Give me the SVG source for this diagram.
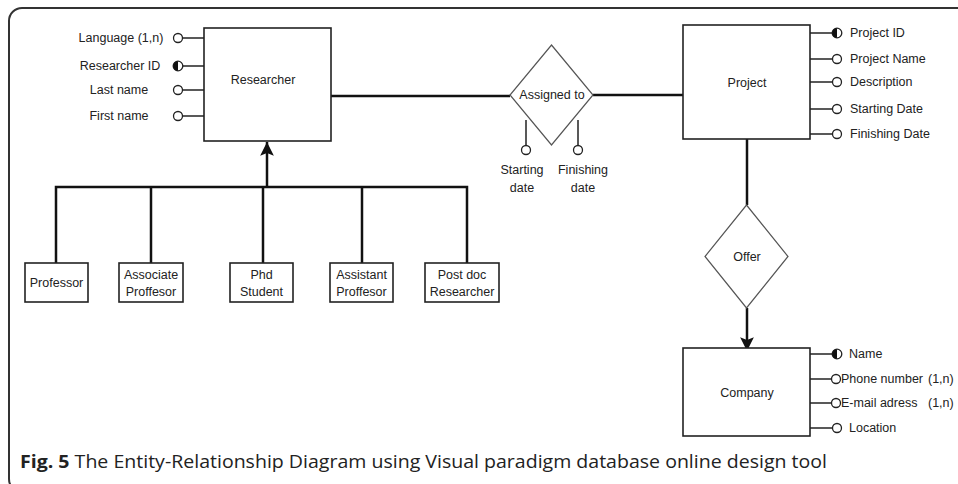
<svg xmlns="http://www.w3.org/2000/svg" width="958" height="484" viewBox="0 0 958 484">
<style>
  .frame{fill:none;stroke:#333;stroke-width:2}
  .box{fill:#fff;stroke:#222;stroke-width:1.6}
  .dia{fill:#fff;stroke:#555;stroke-width:1.2}
  .con{fill:none;stroke:#111;stroke-width:2.5}
  .att{fill:none;stroke:#222;stroke-width:1.5}
  .oc{fill:#fff;stroke:#222;stroke-width:1.3}
  .t{font-family:"Liberation Sans",Arial,sans-serif;font-size:12.5px;fill:#222}
  .m{text-anchor:middle}
  .cap{font-family:"Open Sans","Noto Sans",sans-serif;font-size:18px;fill:#222}
</style>
<defs>
  <marker id="arr" viewBox="0 0 10 10" refX="10" refY="5" markerWidth="5.5" markerHeight="5.5" markerUnits="strokeWidth" orient="auto">
    <path d="M0,0 L10,5 L0,10 L2,5 Z" fill="#111"/>
  </marker>
  <g id="half">
    <circle r="4.8" fill="#fff" stroke="#222" stroke-width="1.3"/>
    <path d="M0,-4.8 A4.8,4.8 0 0 0 0,4.8 Z" fill="#111"/>
  </g>
</defs>
<rect class="frame" x="9" y="8" width="980" height="484" rx="13"/>

<g id="connectors">
  <line class="con" x1="331" y1="96" x2="510" y2="96"/>
  <line class="con" x1="593" y1="95" x2="683" y2="95"/>
  <line class="con" x1="747" y1="139" x2="747" y2="205"/>
  <line class="con" x1="747" y1="308" x2="747" y2="351" marker-end="url(#arr)"/>
  <line class="con" x1="267" y1="187" x2="267" y2="142" marker-end="url(#arr)"/>
  <polyline class="con" points="56,263 56,187 467,187 467,263"/>
  <line class="con" x1="151" y1="187" x2="151" y2="263"/>
  <line class="con" x1="263" y1="187" x2="263" y2="263"/>
  <line class="con" x1="362" y1="187" x2="362" y2="263"/>
</g>

<g id="researcher">
  <rect class="box" x="204" y="28" width="127" height="113"/>
  <text class="t m" x="263" y="84">Researcher</text>
  <g id="researcher-attrs">
    <line class="att" x1="183" y1="38" x2="204" y2="38"/>
    <circle class="oc" cx="178" cy="38" r="4.5"/>
    <text class="t m" x="121" y="42">Language (1,n)</text>
    <line class="att" x1="183" y1="66" x2="204" y2="66"/>
    <use href="#half" x="178" y="66"/>
    <text class="t m" x="120" y="70">Researcher ID</text>
    <line class="att" x1="183" y1="90" x2="204" y2="90"/>
    <circle class="oc" cx="178" cy="90" r="4.5"/>
    <text class="t m" x="119" y="94">Last name</text>
    <line class="att" x1="183" y1="116" x2="204" y2="116"/>
    <circle class="oc" cx="178" cy="116" r="4.5"/>
    <text class="t m" x="119" y="120">First name</text>
  </g>
</g>

<g id="assigned-to">
  <polygon class="dia" points="551.5,45 593,95 551.5,145 510,95"/>
  <text class="t m" x="552" y="99">Assigned to</text>
  <line class="att" x1="526" y1="120" x2="526" y2="146"/>
  <circle class="oc" cx="526" cy="150" r="4.5"/>
  <text class="t m" x="522" y="174">Starting</text>
  <text class="t m" x="522" y="192">date</text>
  <line class="att" x1="578" y1="120" x2="578" y2="146"/>
  <circle class="oc" cx="578" cy="150" r="4.5"/>
  <text class="t m" x="583" y="174">Finishing</text>
  <text class="t m" x="583" y="192">date</text>
</g>

<g id="project">
  <rect class="box" x="683" y="25" width="127" height="114"/>
  <text class="t m" x="747" y="87">Project</text>
  <line class="att" x1="810" y1="33" x2="832" y2="33"/>
  <use href="#half" x="837" y="33"/>
  <text class="t" x="850" y="37">Project ID</text>
  <line class="att" x1="810" y1="59" x2="832" y2="59"/>
  <circle class="oc" cx="837" cy="59" r="4.5"/>
  <text class="t" x="850" y="63">Project Name</text>
  <line class="att" x1="810" y1="82" x2="832" y2="82"/>
  <circle class="oc" cx="837" cy="82" r="4.5"/>
  <text class="t" x="850" y="86">Description</text>
  <line class="att" x1="810" y1="109" x2="832" y2="109"/>
  <circle class="oc" cx="837" cy="109" r="4.5"/>
  <text class="t" x="850" y="113">Starting Date</text>
  <line class="att" x1="810" y1="134" x2="832" y2="134"/>
  <circle class="oc" cx="837" cy="134" r="4.5"/>
  <text class="t" x="850" y="138">Finishing Date</text>
</g>

<g id="offer">
  <polygon class="dia" points="746.5,205 788,256.5 746.5,308 705,256.5"/>
  <text class="t m" x="747" y="261">Offer</text>
</g>

<g id="company">
  <rect class="box" x="683" y="348" width="127" height="88"/>
  <text class="t m" x="747" y="397">Company</text>
  <line class="att" x1="810" y1="354" x2="832" y2="354"/>
  <use href="#half" x="837" y="354"/>
  <text class="t" x="849" y="358">Name</text>
  <line class="att" x1="810" y1="379" x2="832" y2="379"/>
  <circle class="oc" cx="836" cy="379" r="4.5"/>
  <text class="t" x="841" y="383">Phone number</text>
  <text class="t" x="928" y="383">(1,n)</text>
  <line class="att" x1="810" y1="403" x2="832" y2="403"/>
  <circle class="oc" cx="836" cy="403" r="4.5"/>
  <text class="t" x="841" y="407">E-mail adress</text>
  <text class="t" x="928" y="407">(1,n)</text>
  <line class="att" x1="810" y1="428" x2="832" y2="428"/>
  <circle class="oc" cx="837" cy="428" r="4.5"/>
  <text class="t" x="849" y="432">Location</text>
</g>

<g id="professor">
  <rect class="box" x="25" y="263" width="63" height="39"/>
  <text class="t m" x="56.5" y="287">Professor</text>
</g>
<g id="associate-proffesor">
  <rect class="box" x="119" y="263" width="64" height="39"/>
  <text class="t m" x="151" y="279">Associate</text>
  <text class="t m" x="151" y="296">Proffesor</text>
</g>
<g id="phd-student">
  <rect class="box" x="230" y="263" width="63" height="39"/>
  <text class="t m" x="261.5" y="279">Phd</text>
  <text class="t m" x="261.5" y="296">Student</text>
</g>
<g id="assistant-proffesor">
  <rect class="box" x="330" y="263" width="63" height="39"/>
  <text class="t m" x="361.5" y="279">Assistant</text>
  <text class="t m" x="361.5" y="296">Proffesor</text>
</g>
<g id="post-doc-researcher">
  <rect class="box" x="425" y="263" width="74" height="39"/>
  <text class="t m" x="462" y="279">Post doc</text>
  <text class="t m" x="462" y="296">Researcher</text>
</g>

<text class="cap" x="20" y="468" textLength="807" lengthAdjust="spacingAndGlyphs"><tspan font-weight="bold">Fig. 5</tspan> The Entity-Relationship Diagram using Visual paradigm database online design tool</text>
</svg>
